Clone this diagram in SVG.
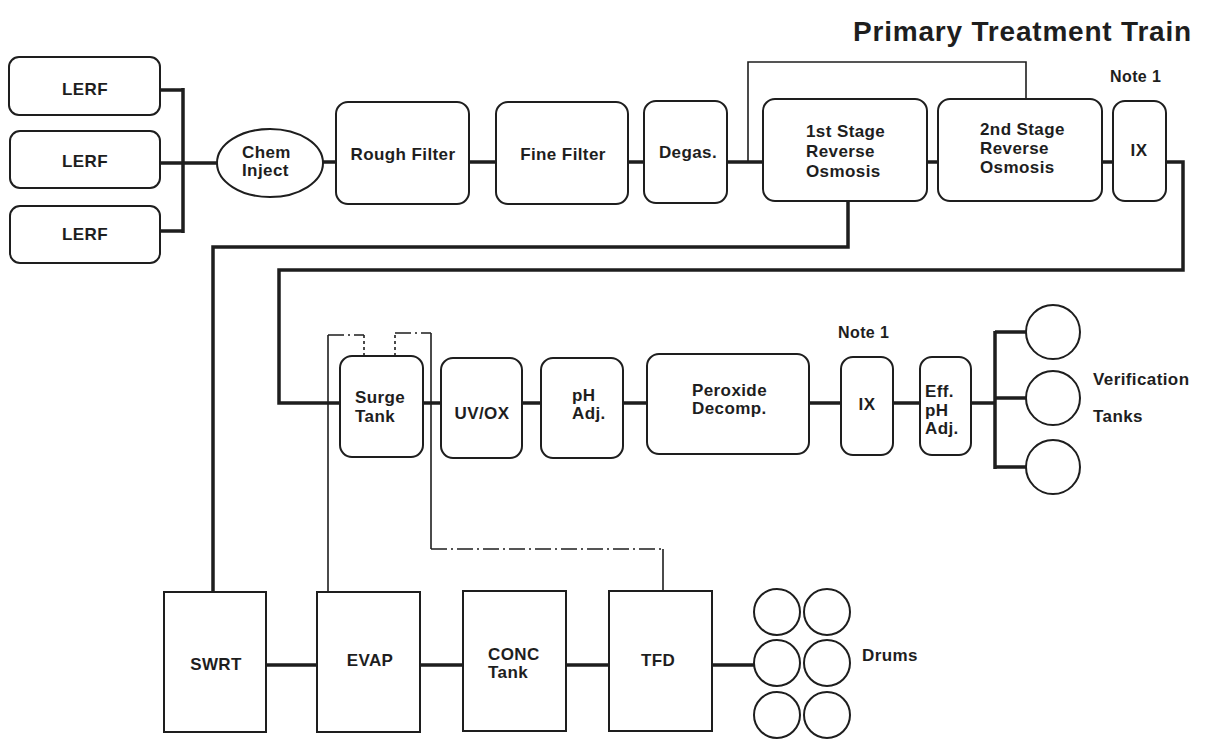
<svg xmlns="http://www.w3.org/2000/svg" width="1208" height="739" viewBox="0 0 1208 739">
<style>
.b{fill:#fff;stroke:#1e1e1e;stroke-width:2}
.c{fill:none;stroke:#1e1e1e;stroke-width:3.5;stroke-linejoin:miter}
.t{fill:none;stroke:#1e1e1e;stroke-width:1.6}
.dd{stroke-dasharray:16 4 2 4}
.dt{stroke-dasharray:3 3}
text{font-family:"Liberation Sans",Arial,sans-serif;font-weight:bold;font-size:17px;fill:#1e1e1e;letter-spacing:0.4px}
.m{text-anchor:middle}
</style>
<rect width="1208" height="739" fill="#fff"/>
<g id="connectors">
<path class="c" d="M160,90H183M183,88V233M160,163H218M160,231H183"/>
<path class="c" d="M322,162H336M469,162H496M628,162H644M727,162H763M927,162H938M1102,162H1113"/>
<path class="t" d="M748,162V62H1026V99"/>
<path class="c" d="M1166,162H1183V270H279V403H340"/>
<path class="c" d="M848,201V247H213V592"/>
<path class="c" d="M423,403H441M522,403H541M623,403H647M809,403H841M893,403H920M971,403H995M995,331V469M995,332H1026M995,398H1026M995,467H1026"/>
<path class="t" d="M328,592V335"/>
<path class="t dd" d="M328,335H364"/>
<path class="t dt" d="M364,335V356"/>
<path class="t dt" d="M395,356V333"/>
<path class="t dd" d="M395,333H431"/>
<path class="t" d="M431,333V549"/>
<path class="t dd" d="M431,549H663"/>
<path class="t" d="M663,549V591"/>
<path class="c" d="M266,665H317M420,665H463M566,665H609M712,665H754"/>
</g>
<text x="853" y="41" style="font-size:28px;letter-spacing:0.8px">Primary Treatment Train</text>
<g id="lerf1"><rect class="b" x="9" y="57" width="151" height="58" rx="10"/><text class="m" x="85" y="95">LERF</text></g>
<g id="lerf2"><rect class="b" x="10" y="131" width="150" height="57" rx="10"/><text class="m" x="85" y="167">LERF</text></g>
<g id="lerf3"><rect class="b" x="10" y="206" width="150" height="57" rx="10"/><text class="m" x="85" y="240">LERF</text></g>
<g id="chem"><ellipse class="b" cx="270" cy="163" rx="53" ry="34"/><text x="242" y="158">Chem</text><text x="242" y="176">Inject</text></g>
<g id="rough"><rect class="b" x="336" y="102" width="133" height="102" rx="12"/><text class="m" x="403" y="160">Rough Filter</text></g>
<g id="fine"><rect class="b" x="496" y="102" width="132" height="102" rx="12"/><text class="m" x="563" y="160">Fine Filter</text></g>
<g id="degas"><rect class="b" x="644" y="101" width="83" height="102" rx="12"/><text class="m" x="688" y="158">Degas.</text></g>
<g id="ro1"><rect class="b" x="763" y="99" width="164" height="102" rx="12"/><text x="806" y="137">1st Stage</text><text x="806" y="157">Reverse</text><text x="806" y="177">Osmosis</text></g>
<g id="ro2"><rect class="b" x="938" y="99" width="164" height="102" rx="12"/><text x="980" y="135">2nd Stage</text><text x="980" y="154">Reverse</text><text x="980" y="173">Osmosis</text></g>
<g id="ix1"><rect class="b" x="1113" y="101" width="53" height="100" rx="12"/><text class="m" x="1139" y="156">IX</text></g>
<text x="1110" y="82" style="font-size:16px">Note 1</text>
<g id="surge"><rect class="b" x="340" y="356" width="83" height="101" rx="12"/><text x="355" y="403">Surge</text><text x="355" y="422">Tank</text></g>
<g id="uvox"><rect class="b" x="441" y="358" width="81" height="100" rx="12"/><text class="m" x="482" y="419">UV/OX</text></g>
<g id="ph"><rect class="b" x="541" y="358" width="82" height="100" rx="12"/><text x="572" y="401">pH</text><text x="572" y="419">Adj.</text></g>
<g id="perox"><rect class="b" x="647" y="354" width="162" height="100" rx="12"/><text x="692" y="396">Peroxide</text><text x="692" y="414">Decomp.</text></g>
<g id="ix2"><rect class="b" x="841" y="357" width="52" height="98" rx="12"/><text class="m" x="867" y="410">IX</text></g>
<text x="838" y="338" style="font-size:16px">Note 1</text>
<g id="eff"><rect class="b" x="920" y="357" width="51" height="98" rx="12"/><text x="925" y="397">Eff.</text><text x="925" y="416">pH</text><text x="925" y="434">Adj.</text></g>
<g id="vtanks"><circle class="b" cx="1053" cy="332" r="27"/><circle class="b" cx="1053" cy="398" r="27"/><circle class="b" cx="1053" cy="467" r="27"/><text x="1093" y="385">Verification</text><text x="1093" y="422">Tanks</text></g>
<g id="swrt"><rect class="b" x="164" y="592" width="102" height="140"/><text class="m" x="216" y="670">SWRT</text></g>
<g id="evap"><rect class="b" x="317" y="592" width="103" height="140"/><text class="m" x="370" y="666">EVAP</text></g>
<g id="conc"><rect class="b" x="463" y="591" width="103" height="140"/><text x="488" y="660">CONC</text><text x="488" y="678">Tank</text></g>
<g id="tfd"><rect class="b" x="609" y="591" width="103" height="140"/><text class="m" x="658" y="666">TFD</text></g>
<g id="drums"><circle class="b" cx="777" cy="612" r="23"/><circle class="b" cx="827" cy="612" r="23"/><circle class="b" cx="777" cy="663" r="23"/><circle class="b" cx="827" cy="663" r="23"/><circle class="b" cx="777" cy="715" r="23"/><circle class="b" cx="827" cy="715" r="23"/><text x="862" y="661">Drums</text></g>
</svg>
